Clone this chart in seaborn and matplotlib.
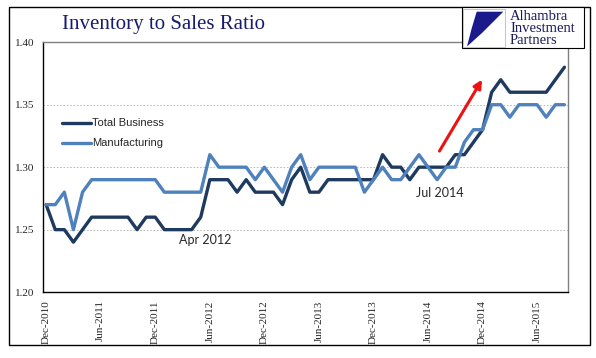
import numpy as np
import pandas as pd
import matplotlib
matplotlib.use('Agg')
import matplotlib.pyplot as plt
import seaborn as sns
from matplotlib.patches import Rectangle, Polygon

# Datos mensuales Dic-2010 a Sep-2015
total_business = [1.27, 1.25, 1.25, 1.24, 1.25, 1.26, 1.26, 1.26, 1.26, 1.26,
                  1.25, 1.26, 1.26, 1.25, 1.25, 1.25, 1.25, 1.26, 1.29, 1.29,
                  1.29, 1.28, 1.29, 1.28, 1.28, 1.28, 1.27, 1.29, 1.30, 1.28,
                  1.28, 1.29, 1.29, 1.29, 1.29, 1.29, 1.29, 1.31, 1.30, 1.30,
                  1.29, 1.30, 1.30, 1.30, 1.30, 1.31, 1.31, 1.32, 1.33, 1.36,
                  1.37, 1.36, 1.36, 1.36, 1.36, 1.36, 1.37, 1.38]
manufacturing = [1.27, 1.27, 1.28, 1.25, 1.28, 1.29, 1.29, 1.29, 1.29, 1.29,
                 1.29, 1.29, 1.29, 1.28, 1.28, 1.28, 1.28, 1.28, 1.31, 1.30,
                 1.30, 1.30, 1.30, 1.29, 1.30, 1.29, 1.28, 1.30, 1.31, 1.29,
                 1.30, 1.30, 1.30, 1.30, 1.30, 1.28, 1.29, 1.30, 1.29, 1.29,
                 1.30, 1.31, 1.30, 1.29, 1.30, 1.30, 1.32, 1.33, 1.33, 1.35,
                 1.35, 1.34, 1.35, 1.35, 1.35, 1.34, 1.35, 1.35]
tick_labels = ['Dec-2010', 'Jun-2011', 'Dec-2011', 'Jun-2012', 'Dec-2012',
               'Jun-2013', 'Dec-2013', 'Jun-2014', 'Dec-2014', 'Jun-2015']
series_names = ['Total Business', 'Manufacturing']

sns.set_style('white')
plt.rcParams['font.family'] = ['Liberation Serif', 'DejaVu Serif']

n = len(total_business)
meses = np.arange(n)
df = pd.DataFrame({
    'mes': np.concatenate([meses, meses]),
    'ratio': total_business + manufacturing,
    'serie': [series_names[0]] * n + [series_names[1]] * n,
})

fig = plt.figure(figsize=(5.96, 3.58), dpi=100)
ax = fig.add_axes([0.0721, 0.184, 0.881, 0.698])
sns.lineplot(data=df, x='mes', y='ratio', hue='serie',
             palette=['#1F3A5F', '#4F81BD'], linewidth=2.4, ax=ax)

ax.set_xlim(-0.35, 57.4)
ax.set_ylim(1.20, 1.40)
ax.set_yticks([1.20, 1.25, 1.30, 1.35, 1.40])
ax.set_yticklabels(['%.2f' % v for v in [1.20, 1.25, 1.30, 1.35, 1.40]], fontsize=8)
ax.set_xticks(np.arange(0, n, 6))
ax.set_xticklabels(tick_labels, rotation=90, fontsize=8)
ax.set_xticks(meses, minor=True)
ax.tick_params(axis='both', which='both', direction='out', length=4, width=0.8,
               color='black', pad=2)
ax.set_xlabel('')
ax.set_ylabel('')

for v in [1.25, 1.30, 1.35]:
    ax.axhline(v, color='#b0b0b0', lw=0.6, ls=(0, (2, 2)), zorder=0)

for s in ['left', 'bottom']:
    ax.spines[s].set_color('black')
    ax.spines[s].set_linewidth(1)
for s in ['top', 'right']:
    ax.spines[s].set_color('#808080')
    ax.spines[s].set_linewidth(1)

ax.legend(loc='upper left', bbox_to_anchor=(0.036, 0.695), frameon=False,
          prop={'family': 'Liberation Sans', 'size': 8}, handlelength=2.6,
          labelspacing=0.9, handletextpad=0.1, borderaxespad=0, borderpad=0)

ax.text(17.5, 1.2416, 'Apr 2012', fontsize=9, family='Lato', ha='center', va='center')
ax.text(43.3, 1.279, 'Jul 2014', fontsize=9, family='Lato', ha='center', va='center')
ax.annotate('', xy=(48.1, 1.372), xytext=(43.1, 1.311),
            arrowprops=dict(arrowstyle='-|>', color='#EE1111', lw=2.2, mutation_scale=12))

fig.text(62 / 596, 1 - 25 / 358, 'Inventory to Sales Ratio', fontsize=15,
         color='#1A1A6E', ha='left', va='center')

# marco exterior
fig.patches.append(Rectangle((9 / 596, 1 - 345 / 358), 581 / 596, 338 / 358,
                             transform=fig.transFigure, fill=False,
                             edgecolor='black', lw=1))

# logo
fig.patches.append(Rectangle((462 / 596, 1 - 48 / 358), 122 / 596, 41 / 358,
                             transform=fig.transFigure, facecolor='white',
                             edgecolor='black', lw=0.8, zorder=5))
fig.patches.append(Rectangle((463 / 596, 1 - 47 / 358), 42 / 596, 38 / 358,
                             transform=fig.transFigure, facecolor='white',
                             edgecolor='#bbbbbb', lw=0.6, zorder=6))
logo_pts = [(476.7, 11.7), (503.3, 11.7), (482, 33), (467, 46.5), (471.5, 29)]
fig.patches.append(Polygon([(x / 596, 1 - y / 358) for x, y in logo_pts],
                           closed=True, transform=fig.transFigure,
                           facecolor='#1A1A8C', edgecolor='none', zorder=7))
fig.text(510 / 596, 1 - 28 / 358, 'Alhambra\nInvestment\nPartners', fontsize=10.5,
         color='#1A1A5E', ha='left', va='center', linespacing=0.9, zorder=8)

fig.savefig('out.png', dpi=100)
